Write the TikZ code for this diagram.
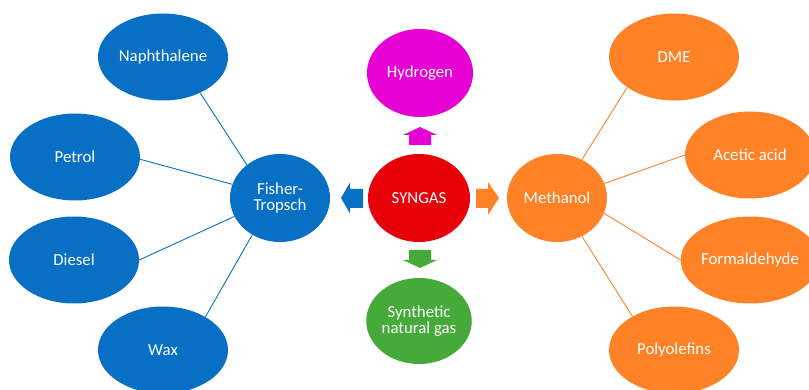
\documentclass[tikz,border=0pt]{standalone}
\usepackage{fontspec}
\setmainfont{Carlito}
\usetikzlibrary{shapes.geometric}
\definecolor{cblue}{RGB}{8,112,196}
\definecolor{cred}{RGB}{232,0,8}
\definecolor{cmag}{RGB}{230,0,212}
\definecolor{cgreen}{RGB}{70,170,58}
\definecolor{corange}{RGB}{255,130,38}
\tikzset{
  bub/.style={ellipse, inner sep=0pt, text=white, align=center,
    font=\fontsize{16.8}{16}\selectfont},
  big/.style={bub, minimum width=130pt, minimum height=87pt},
  mid/.style={bub, minimum width=102pt, minimum height=88pt},
  link/.style={line width=0.9pt},
}
\begin{document}
\begin{tikzpicture}[x=1pt,y=-1pt]
\useasboundingbox (0,0) rectangle (809,390);
% centre
\node[mid, fill=cred] (syn) at (419,198) {SYNGAS};
\node[mid, fill=cmag, minimum width=106pt] (hyd) at (420,73) {Hydrogen};
\node[mid, fill=cgreen, minimum width=104pt, minimum height=86pt] (sng) at (419,321) {Synthetic\\natural gas};
\node[mid, fill=cblue, minimum width=100pt] (ft) at (280,198) {Fisher-\\Tropsch};
\node[mid, fill=corange, minimum width=100pt] (meoh) at (557,198) {Methanol};
% left
\node[big, fill=cblue] (nap) at (163,57) {Naphthalene};
\node[big, fill=cblue] (pet) at (75,157) {Petrol};
\node[big, fill=cblue] (die) at (74,260) {Diesel};
\node[big, fill=cblue] (wax) at (163,350) {Wax};
% right
\node[big, fill=corange] (dme) at (674,57) {DME};
\node[big, fill=corange] (ace) at (750,155) {Acetic acid};
\node[big, fill=corange] (form) at (750,260) {Formaldehyde};
\node[big, fill=corange] (poly) at (674,350) {Polyolefins};
% links
\draw[link, cblue] (nap.-44) -- (ft.135);
\draw[link, cblue] (pet.-2) -- (ft.164);
\draw[link, cblue] (die.0) -- (ft.202);
\draw[link, cblue] (wax.38) -- (ft.233);
\draw[link, corange] (dme.213) -- (meoh.57);
\draw[link, corange] (ace.180) -- (meoh.17);
\draw[link, corange] (form.180) -- (meoh.-18);
\draw[link, corange] (poly.141) -- (meoh.-57);
% block arrows
\fill[cblue] (341,198) -- (350,182.5) -- (350,189) -- (363,189) -- (363,208) -- (350,208) -- (350,213.5) -- cycle;
\fill[corange] (499,198) -- (488,182) -- (488,189) -- (476,189) -- (476,208) -- (488,208) -- (488,215) -- cycle;
\fill[cmag] (420,127) -- (437,135) -- (431,135) -- (431,145) -- (409,145) -- (409,135) -- (403,135) -- cycle;
\fill[cgreen] (420,268) -- (437,260) -- (431,260) -- (431,250) -- (409,250) -- (409,260) -- (403,260) -- cycle;
\end{tikzpicture}
\end{document}
